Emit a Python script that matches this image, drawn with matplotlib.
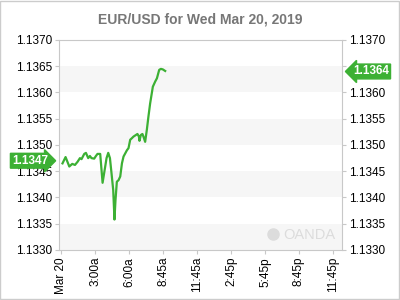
import matplotlib
matplotlib.use('Agg')
import matplotlib.pyplot as plt

plt.rcParams['font.family'] = ['Liberation Sans', 'DejaVu Sans']

# hours since midnight (approx.) and EUR/USD price
hours = [0.11, 0.38, 0.71, 0.97, 1.21, 1.44, 1.65, 1.79, 2.03, 2.18, 2.38, 2.53, 2.67,
         2.91, 3.06, 3.20, 3.44, 3.65, 3.86, 4.00, 4.15, 4.30, 4.44, 4.59, 4.70, 4.79,
         4.91, 5.06, 5.21, 5.36, 5.50, 5.65, 5.80, 5.94, 6.09, 6.24, 6.38, 6.59, 6.73,
         6.86, 6.91, 7.03, 7.17, 7.26, 7.41, 7.56, 7.70, 7.85, 8.09, 8.30, 8.45, 8.65,
         8.80, 8.97, 9.18]
price = [1.13465, 1.13477, 1.13459, 1.13464, 1.13462, 1.13468, 1.13475, 1.13473, 1.13483,
         1.13485, 1.13475, 1.13479, 1.13475, 1.13474, 1.13479, 1.13483, 1.13483, 1.13428,
         1.13456, 1.13475, 1.13485, 1.13475, 1.13446, 1.13414, 1.13358, 1.13395, 1.13430,
         1.13433, 1.13440, 1.13465, 1.13478, 1.13484, 1.13490, 1.13494, 1.13510, 1.13513,
         1.13516, 1.13519, 1.13521, 1.13516, 1.13508, 1.13519, 1.13521, 1.13516, 1.13506,
         1.13529, 1.13554, 1.13579, 1.13611, 1.13621, 1.13627, 1.13643, 1.13645, 1.13644,
         1.13641]
open_label = '1.1347'
last_label = '1.1364'

tick_hours = [0, 3, 6, 9, 12, 15, 18, 21, 24]
tick_labels = ['Mar 20', '3:00a', '6:00a', '8:45a', '11:45a', '2:45p', '5:45p', '8:45p', '11:45p']
y_ticks = [1.1330, 1.1335, 1.1340, 1.1345, 1.1350, 1.1355, 1.1360, 1.1365, 1.1370]

green = '#3cb034'
gray = '#c8c8c8'

fig = plt.figure(figsize=(4, 3), dpi=100)
fig.patches.append(plt.Rectangle((0.001, 0.003), 0.997, 0.995, transform=fig.transFigure,
                                 fill=False, edgecolor='#cccccc', lw=1))
ax = fig.add_axes([0.1475, 0.1667, 0.7075, 0.7])

# alternating bands
for i in range(0, len(y_ticks) - 1, 2):
    ax.axhspan(y_ticks[i], y_ticks[i + 1], color='#f6f6f6', lw=0, zorder=0)

ax.plot(hours, price, color=green, lw=1.6, zorder=3)

ax.set_xlim(-0.2, 24.8)
ax.set_ylim(1.1330, 1.1370)
ax.set_xticks(tick_hours)
ax.set_xticklabels(tick_labels, rotation=90, fontsize=8.5)
ax.set_yticks(y_ticks)
ax.set_yticklabels(['%.4f' % v for v in y_ticks], fontsize=8.5)
ax.tick_params(axis='y', which='both', left=True, right=True, labelleft=True, labelright=True,
               length=3, color=gray, pad=2)
ax.tick_params(axis='x', length=3, color=gray, pad=2)
for s in ax.spines.values():
    s.set_color(gray)

# right-hand 1.1365 label is hidden behind the last-price box
ax.yaxis.get_major_ticks()[7].label2.set_visible(False)

ax.set_title('EUR/USD for Wed Mar 20, 2019', fontsize=10, fontweight='bold',
             color='#777777', pad=12)

# price labels
ax.annotate(open_label, xy=(0, 1.1347), xycoords=('axes fraction', 'data'),
            xytext=(-21, 0), textcoords='offset points', ha='center', va='center',
            fontsize=8.5, fontweight='bold', color='white',
            bbox=dict(boxstyle='rarrow,pad=0.12', fc=green, ec=green), zorder=5,
            annotation_clip=False)
ax.annotate(last_label, xy=(1, 1.1364), xycoords=('axes fraction', 'data'),
            xytext=(21, 0), textcoords='offset points', ha='center', va='center',
            fontsize=8.5, fontweight='bold', color='white',
            bbox=dict(boxstyle='larrow,pad=0.12', fc=green, ec=green), zorder=5,
            annotation_clip=False)

# watermark
ax.text(0.975, 0.04, 'OANDA', transform=ax.transAxes, ha='right', va='bottom',
        fontsize=10.5, color='#dcdcdc')
ax.plot([0.755], [0.075], marker='o', ms=8, color='#dcdcdc', transform=ax.transAxes,
        clip_on=False)

fig.savefig('out.png', dpi=100)
